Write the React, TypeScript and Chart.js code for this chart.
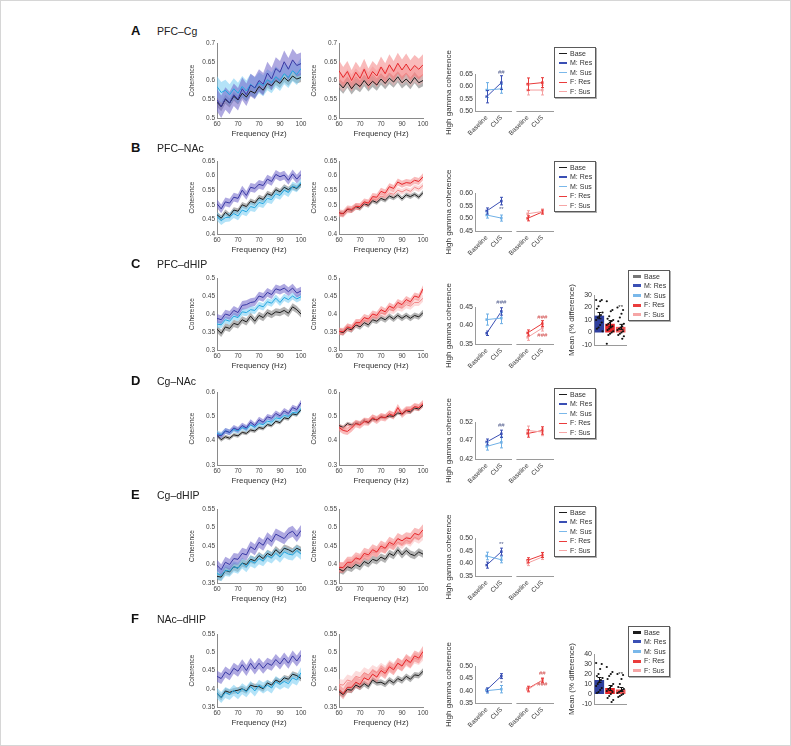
import React, { useEffect, useRef } from "react";
import { Chart, registerables } from "chart.js";
Chart.register(...registerables);

const FONT = "'Liberation Sans', Arial, Helvetica, sans-serif";
Chart.defaults.font.family = FONT;

// ---------- shared axis data ----------
const freqHz = [60, 62, 64, 66, 68, 70, 72, 74, 76, 78, 80, 82, 84, 86, 88, 90, 92, 94, 96, 98, 100];
const freqTickValues = [60, 70, 80, 90, 100];
const freqTickLabels = ["60", "70", "70", "90", "100"];

// ---------- coherence spectra (mean lines) ----------
// A: PFC–Cg
const aMBase = [0.542, 0.530, 0.550, 0.540, 0.558, 0.548, 0.566, 0.556, 0.572, 0.566, 0.584, 0.574, 0.592, 0.586, 0.600, 0.592, 0.608, 0.598, 0.612, 0.604, 0.608];
const aMRes = [0.548, 0.530, 0.552, 0.540, 0.562, 0.550, 0.578, 0.562, 0.588, 0.580, 0.600, 0.590, 0.620, 0.604, 0.632, 0.622, 0.650, 0.630, 0.655, 0.640, 0.645];
const aMSus = [0.584, 0.568, 0.574, 0.562, 0.578, 0.566, 0.584, 0.572, 0.590, 0.580, 0.594, 0.586, 0.602, 0.594, 0.610, 0.600, 0.618, 0.608, 0.626, 0.616, 0.632];
const aFBase = [0.592, 0.580, 0.596, 0.578, 0.592, 0.584, 0.600, 0.586, 0.598, 0.588, 0.604, 0.592, 0.606, 0.596, 0.610, 0.594, 0.604, 0.592, 0.608, 0.594, 0.600];
const aFRes = [0.626, 0.608, 0.624, 0.600, 0.622, 0.606, 0.630, 0.604, 0.624, 0.612, 0.636, 0.618, 0.642, 0.624, 0.646, 0.628, 0.644, 0.626, 0.640, 0.630, 0.642];
const aFSus = [0.604, 0.592, 0.608, 0.594, 0.610, 0.598, 0.614, 0.600, 0.616, 0.604, 0.618, 0.606, 0.620, 0.608, 0.622, 0.610, 0.620, 0.606, 0.618, 0.608, 0.616];
// B: PFC–NAc
const bMBase = [0.466, 0.454, 0.474, 0.462, 0.482, 0.478, 0.500, 0.494, 0.512, 0.506, 0.524, 0.518, 0.538, 0.532, 0.552, 0.544, 0.560, 0.552, 0.562, 0.556, 0.570];
const bMRes = [0.504, 0.486, 0.510, 0.506, 0.526, 0.522, 0.550, 0.532, 0.560, 0.556, 0.570, 0.566, 0.588, 0.580, 0.604, 0.596, 0.602, 0.584, 0.606, 0.588, 0.604];
const bMSus = [0.460, 0.446, 0.456, 0.458, 0.470, 0.462, 0.482, 0.476, 0.494, 0.490, 0.508, 0.504, 0.522, 0.518, 0.538, 0.532, 0.550, 0.542, 0.564, 0.558, 0.576];
const bFBase = [0.472, 0.468, 0.484, 0.480, 0.494, 0.488, 0.504, 0.498, 0.514, 0.508, 0.522, 0.516, 0.530, 0.524, 0.534, 0.520, 0.534, 0.528, 0.536, 0.526, 0.542];
const bFRes = [0.472, 0.470, 0.486, 0.484, 0.494, 0.494, 0.510, 0.506, 0.528, 0.526, 0.546, 0.540, 0.562, 0.556, 0.578, 0.570, 0.576, 0.574, 0.584, 0.580, 0.596];
const bFSus = [0.470, 0.466, 0.480, 0.482, 0.496, 0.492, 0.506, 0.504, 0.520, 0.516, 0.530, 0.526, 0.540, 0.536, 0.550, 0.544, 0.552, 0.546, 0.560, 0.554, 0.566];
// C: PFC–dHIP
const cMBase = [0.358, 0.346, 0.364, 0.360, 0.374, 0.370, 0.384, 0.378, 0.394, 0.380, 0.396, 0.390, 0.404, 0.398, 0.406, 0.404, 0.410, 0.402, 0.420, 0.412, 0.400];
const cMRes = [0.388, 0.384, 0.400, 0.396, 0.410, 0.404, 0.424, 0.426, 0.432, 0.434, 0.450, 0.446, 0.460, 0.454, 0.470, 0.466, 0.472, 0.462, 0.472, 0.458, 0.464];
const cMSus = [0.372, 0.370, 0.384, 0.380, 0.394, 0.390, 0.406, 0.404, 0.412, 0.410, 0.424, 0.420, 0.434, 0.430, 0.444, 0.432, 0.446, 0.440, 0.450, 0.442, 0.448];
const cFBase = [0.352, 0.348, 0.360, 0.356, 0.370, 0.364, 0.376, 0.370, 0.384, 0.380, 0.390, 0.384, 0.394, 0.386, 0.396, 0.388, 0.396, 0.388, 0.396, 0.392, 0.404];
const cFRes = [0.352, 0.350, 0.364, 0.360, 0.376, 0.376, 0.390, 0.386, 0.400, 0.396, 0.412, 0.406, 0.422, 0.416, 0.432, 0.426, 0.440, 0.434, 0.450, 0.446, 0.470];
const cFSus = [0.352, 0.352, 0.362, 0.360, 0.372, 0.372, 0.382, 0.380, 0.392, 0.390, 0.402, 0.400, 0.412, 0.410, 0.420, 0.416, 0.426, 0.422, 0.432, 0.432, 0.444];
// D: Cg–NAc
const dMBase = [0.422, 0.404, 0.416, 0.410, 0.424, 0.420, 0.434, 0.430, 0.444, 0.440, 0.454, 0.450, 0.466, 0.462, 0.480, 0.474, 0.494, 0.490, 0.510, 0.506, 0.528];
const dMRes = [0.424, 0.420, 0.440, 0.434, 0.452, 0.444, 0.462, 0.452, 0.476, 0.462, 0.486, 0.476, 0.498, 0.492, 0.512, 0.502, 0.522, 0.512, 0.536, 0.528, 0.556];
const dMSus = [0.430, 0.424, 0.440, 0.434, 0.446, 0.440, 0.454, 0.448, 0.464, 0.456, 0.470, 0.466, 0.480, 0.476, 0.494, 0.490, 0.504, 0.500, 0.516, 0.514, 0.532];
const dFBase = [0.462, 0.454, 0.470, 0.464, 0.472, 0.470, 0.484, 0.474, 0.490, 0.486, 0.498, 0.496, 0.502, 0.500, 0.514, 0.510, 0.524, 0.518, 0.534, 0.530, 0.546];
const dFRes = [0.454, 0.442, 0.438, 0.452, 0.470, 0.464, 0.478, 0.476, 0.494, 0.484, 0.498, 0.494, 0.510, 0.502, 0.536, 0.508, 0.524, 0.526, 0.540, 0.536, 0.552];
const dFSus = [0.454, 0.452, 0.464, 0.462, 0.474, 0.470, 0.484, 0.480, 0.494, 0.490, 0.502, 0.498, 0.510, 0.506, 0.520, 0.516, 0.530, 0.526, 0.540, 0.536, 0.550];
// E: Cg–dHIP
const eMBase = [0.368, 0.366, 0.384, 0.380, 0.394, 0.390, 0.404, 0.400, 0.414, 0.410, 0.424, 0.416, 0.430, 0.424, 0.440, 0.430, 0.444, 0.440, 0.434, 0.444, 0.438];
const eMRes = [0.398, 0.386, 0.406, 0.400, 0.416, 0.414, 0.430, 0.426, 0.448, 0.440, 0.460, 0.452, 0.472, 0.462, 0.482, 0.476, 0.470, 0.484, 0.490, 0.476, 0.492];
const eMSus = [0.376, 0.370, 0.384, 0.382, 0.394, 0.390, 0.404, 0.394, 0.410, 0.404, 0.416, 0.410, 0.424, 0.418, 0.430, 0.420, 0.434, 0.428, 0.426, 0.438, 0.428];
const eFBase = [0.388, 0.382, 0.394, 0.390, 0.400, 0.394, 0.408, 0.402, 0.414, 0.410, 0.420, 0.414, 0.430, 0.424, 0.440, 0.426, 0.438, 0.428, 0.424, 0.434, 0.428];
const eFRes = [0.392, 0.392, 0.406, 0.406, 0.418, 0.414, 0.430, 0.426, 0.440, 0.434, 0.450, 0.444, 0.460, 0.454, 0.470, 0.464, 0.472, 0.470, 0.484, 0.480, 0.494];
const eFSus = [0.392, 0.392, 0.404, 0.402, 0.414, 0.412, 0.424, 0.422, 0.434, 0.432, 0.444, 0.442, 0.454, 0.450, 0.460, 0.454, 0.466, 0.460, 0.474, 0.468, 0.478];
// F: NAc–dHIP
const fMBase = [0.388, 0.376, 0.394, 0.390, 0.394, 0.396, 0.400, 0.394, 0.410, 0.406, 0.406, 0.400, 0.416, 0.410, 0.424, 0.418, 0.430, 0.426, 0.440, 0.436, 0.428];
const fMRes = [0.434, 0.428, 0.446, 0.438, 0.456, 0.448, 0.466, 0.450, 0.470, 0.454, 0.470, 0.456, 0.470, 0.464, 0.480, 0.468, 0.484, 0.470, 0.490, 0.476, 0.492];
const fMSus = [0.388, 0.376, 0.390, 0.384, 0.396, 0.386, 0.400, 0.392, 0.406, 0.394, 0.410, 0.402, 0.410, 0.402, 0.420, 0.412, 0.420, 0.414, 0.430, 0.424, 0.444];
const fFBase = [0.392, 0.384, 0.398, 0.396, 0.410, 0.404, 0.414, 0.406, 0.424, 0.416, 0.418, 0.412, 0.424, 0.416, 0.428, 0.422, 0.434, 0.426, 0.438, 0.436, 0.448];
const fFRes = [0.398, 0.386, 0.404, 0.404, 0.418, 0.412, 0.430, 0.424, 0.440, 0.432, 0.450, 0.442, 0.460, 0.452, 0.470, 0.462, 0.480, 0.472, 0.490, 0.484, 0.502];
const fFSus = [0.412, 0.410, 0.424, 0.420, 0.434, 0.430, 0.444, 0.438, 0.450, 0.444, 0.456, 0.448, 0.464, 0.456, 0.470, 0.464, 0.476, 0.470, 0.484, 0.480, 0.492];

// SEM half-widths per plot, order: [Base, Sus, Res]
const aMSem = [0.012, 0.028, 0.03];
const aFSem = [0.015, 0.022, 0.028];
const bMSem = [0.01, 0.015, 0.015];
const bFSem = [0.008, 0.01, 0.012];
const cMSem = [0.01, 0.01, 0.012];
const cFSem = [0.008, 0.01, 0.01];
const dMSem = [0.008, 0.012, 0.012];
const dFSem = [0.008, 0.012, 0.015];
const eMSem = [0.01, 0.015, 0.015];
const eFSem = [0.01, 0.012, 0.015];
const fMSem = [0.008, 0.015, 0.015];
const fFSem = [0.008, 0.015, 0.015];

// coherence y ticks per row
const cohTicksA = [0.5, 0.55, 0.6, 0.65, 0.7];
const cohTicksB = [0.4, 0.45, 0.5, 0.55, 0.6, 0.65];
const cohTicksC = [0.3, 0.35, 0.4, 0.45, 0.5];
const cohTicksD = [0.3, 0.4, 0.5, 0.6];
const cohTicksE = [0.35, 0.4, 0.45, 0.5, 0.55];
const cohTicksF = [0.35, 0.4, 0.45, 0.5, 0.55];

// ---------- high gamma coherence (Baseline, CUS) per row A..F ----------
const hgXLabels = ["Baseline", "CUS", "Baseline", "CUS"];
const hgMRes = [[0.558, 0.615], [0.529, 0.568], [0.379, 0.438], [0.466, 0.488], [0.393, 0.446], [0.403, 0.459]];
const hgMResErr = [[0.025, 0.028], [0.012, 0.015], [0.006, 0.01], [0.008, 0.01], [0.012, 0.014], [0.008, 0.01]];
const hgMSus = [[0.585, 0.590], [0.513, 0.501], [0.416, 0.420], [0.454, 0.465], [0.429, 0.414], [0.400, 0.406]];
const hgMSusErr = [[0.03, 0.018], [0.012, 0.012], [0.015, 0.015], [0.01, 0.015], [0.015, 0.012], [0.01, 0.015]];
const hgFRes = [[0.609, 0.615], [0.500, 0.525], [0.380, 0.405], [0.489, 0.497], [0.412, 0.433], [0.408, 0.442]];
const hgFResErr = [[0.025, 0.02], [0.01, 0.008], [0.008, 0.008], [0.01, 0.01], [0.01, 0.01], [0.01, 0.008]];
const hgFSus = [[0.585, 0.585], [0.518, 0.527], [0.368, 0.393], [0.497, 0.493], [0.401, 0.425], [0.404, 0.442]];
const hgFSusErr = [[0.02, 0.02], [0.012, 0.01], [0.008, 0.008], [0.012, 0.01], [0.01, 0.01], [0.01, 0.01]];
const hgTicks = [
  [0.5, 0.55, 0.6, 0.65],
  [0.45, 0.5, 0.55, 0.6],
  [0.35, 0.4, 0.45],
  [0.42, 0.47, 0.52],
  [0.35, 0.4, 0.45, 0.5],
  [0.35, 0.4, 0.45, 0.5],
];
const hgSig = [
  [{ grp: "M", y: 0.658, text: "##" }],
  [{ grp: "M", y: 0.536, text: "**" }],
  [{ grp: "M", y: 0.463, text: "###" }, { grp: "F", y: 0.423, text: "###" }, { grp: "F", y: 0.374, text: "###" }],
  [{ grp: "M", y: 0.510, text: "##" }],
  [{ grp: "M", y: 0.474, text: "**" }],
  [{ grp: "M", y: 0.428, text: "*" }, { grp: "F", y: 0.472, text: "##" }, { grp: "F", y: 0.426, text: "###" }],
];

// ---------- mean % difference bars (rows C and F) ----------
const barCMeans = [13.5, 7, 4.5];
const barCErr = [2.5, 2.5, 2];
const barCPoints = [
  [26, 26, 25, 21, 19, 16, 14, 13, 12, 10, 8, 6, 4, 3, 1],
  [25, 18, 17, 13, 11, 10, 9, 8, 7, 6, 5, 4, 3, 2, 1, 0, -1, -2, -9],
  [20, 18, 15, 12, 9, 7, 5, 4, 3, 2, 1, 0, -1, -2, -3, -5],
];
const barCTicks = [-10, 0, 10, 20, 30];
const barCSig = [{ bar: 2, y: 20, text: "**" }];
const barFMeans = [14, 6, 4.5];
const barFErr = [2.5, 2.5, 2];
const barFPoints = [
  [31, 30, 25, 20, 18, 16, 14, 12, 10, 8, 6, 4, 2, 1],
  [27, 22, 20, 18, 15, 10, 8, 6, 5, 3, 2, 0, -2, -4, -6, -8],
  [20, 19, 15, 10, 7, 5, 4, 3, 2, 1, 0, -1, -2, -3],
];
const barFTicks = [-10, 0, 10, 20, 30, 40];
const barFSig = [{ bar: 2, y: 20, text: "**" }];

const legendLabels = ["Base", "M: Res", "M: Sus", "F: Res", "F: Sus"];

// ---------- styles ----------
const AXIS = "#8a8a8a";
const TICK = "#444";
const TXT = "#333";
const ST = {
  base: { line: "#1c1c1c", band: "rgba(105,105,105,0.5)" },
  mRes: { line: "#3838a4", band: "rgba(110,98,200,0.55)" },
  mSus: { line: "#22a6e0", band: "rgba(118,204,242,0.55)" },
  fRes: { line: "#e6262a", band: "rgba(242,105,105,0.45)" },
  fSus: { line: "#f28888", band: "rgba(249,178,178,0.45)" },
};
const DOT = { mRes: "#3a4fb4", mSus: "#6fb0e6", fRes: "#e83a3a", fSus: "#f4a0a0" };
const LEGEND_COLORS = ["#1c1c1c", "#3a4fb4", "#7ab8ea", "#ea3c3c", "#f6a6a6"];
const BAR_COLORS = ["#2f3f9f", "#e8262a", "#ee5757"];

type Area = { l: number; t: number; w: number; h: number };
type Margin = { l: number; t: number; r: number; b: number };

const cohMargin: Margin = { l: 35, t: 8, r: 8, b: 21 };
const hgMargin: Margin = { l: 34, t: 30, r: 2, b: 34 };
const barMargin: Margin = { l: 30, t: 16, r: 2, b: 16 };

// layout positions in data units of the dot plot x scale
const HG_X = [0, 1, 2.8, 3.8];
const HG_XMIN = -0.8;
const HG_XMAX = 4.6;
const HG_SEG = [[-0.8, 1.73], [2.03, 4.6]];

const ROWS = [
  { letter: "A", title: "PFC–Cg", capTop: 26, cohT: 43, cohB: 118, dotT: 74, dotB: 111, legT: 47, legL: 554 },
  { letter: "B", title: "PFC–NAc", capTop: 143, cohT: 161, cohB: 234, dotT: 193, dotB: 231, legT: 161, legL: 554 },
  { letter: "C", title: "PFC–dHIP", capTop: 259, cohT: 278, cohB: 350, dotT: 307, dotB: 344, legT: 270, legL: 628, barT: 295, barB: 345 },
  { letter: "D", title: "Cg–NAc", capTop: 376, cohT: 392, cohB: 465, dotT: 422, dotB: 459, legT: 388, legL: 554 },
  { letter: "E", title: "Cg–dHIP", capTop: 490, cohT: 509, cohB: 583, dotT: 538, dotB: 576, legT: 506, legL: 554 },
  { letter: "F", title: "NAc–dHIP", capTop: 614, cohT: 634, cohB: 707, dotT: 666, dotB: 703, legT: 626, legL: 628, barT: 654, barB: 704 },
];

const PANELS = [
  { m: [aMBase, aMSus, aMRes], mSem: aMSem, f: [aFBase, aFSus, aFRes], fSem: aFSem, ticks: cohTicksA },
  { m: [bMBase, bMSus, bMRes], mSem: bMSem, f: [bFBase, bFSus, bFRes], fSem: bFSem, ticks: cohTicksB },
  { m: [cMBase, cMSus, cMRes], mSem: cMSem, f: [cFBase, cFSus, cFRes], fSem: cFSem, ticks: cohTicksC },
  { m: [dMBase, dMSus, dMRes], mSem: dMSem, f: [dFBase, dFSus, dFRes], fSem: dFSem, ticks: cohTicksD },
  { m: [eMBase, eMSus, eMRes], mSem: eMSem, f: [eFBase, eFSus, eFRes], fSem: eFSem, ticks: cohTicksE },
  { m: [fMBase, fMSus, fMRes], mSem: fMSem, f: [fFBase, fFSus, fFRes], fSem: fFSem, ticks: cohTicksF },
];

// ---------- helpers ----------
const setTicks = (vals: number[]) => (s: any) => {
  s.ticks = vals.map((v) => ({ value: v }));
};
const fitH = (h: number) => (s: any) => {
  s.height = h;
};
const fitW = (w: number) => (s: any) => {
  s.width = w;
};
const fmtShort = (v: number) => String(Number(v.toFixed(3)));
const fmt2 = (v: number) => v.toFixed(2);

function common(m: Margin) {
  return {
    responsive: false,
    maintainAspectRatio: false,
    animation: false,
    devicePixelRatio: 1,
    events: [],
    layout: { padding: { top: m.t, right: m.r, left: 0, bottom: 0 } },
    plugins: { legend: { display: false }, tooltip: { enabled: false }, title: { display: false } },
  };
}

const errorBarPlugin = {
  id: "errBars",
  afterDatasetsDraw(chart: any) {
    const ctx = chart.ctx;
    const ys = chart.scales.y;
    chart.data.datasets.forEach((ds: any, di: number) => {
      if (!ds.errors) return;
      const meta = chart.getDatasetMeta(di);
      ctx.save();
      ctx.strokeStyle = ds.errColor || ds.borderColor;
      ctx.lineWidth = 1;
      const cap = ds.errCap ?? 1.5;
      meta.data.forEach((el: any, i: number) => {
        const raw = ds.data[i];
        const yv = typeof raw === "number" ? raw : raw.y;
        const e = ds.errors[i];
        const x = Math.round(el.x) + 0.5;
        const y1 = ys.getPixelForValue(yv + e);
        const y2 = ys.getPixelForValue(yv - e);
        ctx.beginPath();
        ctx.moveTo(x, y1);
        ctx.lineTo(x, y2);
        ctx.moveTo(x - cap, y1);
        ctx.lineTo(x + cap, y1);
        ctx.moveTo(x - cap, y2);
        ctx.lineTo(x + cap, y2);
        ctx.stroke();
      });
      ctx.restore();
    });
  },
};

function textPlugin(items: { x: number; y: number; text: string; color: string }[]) {
  return {
    id: "sigText",
    afterDatasetsDraw(chart: any) {
      const ctx = chart.ctx;
      ctx.save();
      ctx.font = `6px ${FONT}`;
      ctx.textAlign = "center";
      ctx.textBaseline = "middle";
      items.forEach((it) => {
        ctx.fillStyle = it.color;
        ctx.fillText(it.text, chart.scales.x.getPixelForValue(it.x), chart.scales.y.getPixelForValue(it.y));
      });
      ctx.restore();
    },
  };
}

const brokenAxisPlugin = {
  id: "brokenAxis",
  afterDraw(chart: any) {
    const ctx = chart.ctx;
    const xs = chart.scales.x;
    const y = Math.round(chart.chartArea.bottom) + 0.5;
    ctx.save();
    ctx.strokeStyle = "#9a9a9a";
    ctx.lineWidth = 1;
    HG_SEG.forEach(([a, b]) => {
      ctx.beginPath();
      ctx.moveTo(xs.getPixelForValue(a), y);
      ctx.lineTo(xs.getPixelForValue(b), y);
      ctx.stroke();
    });
    ctx.restore();
  },
};

// ---------- chart configs ----------
function cohConfig(means: number[][], sems: number[], styles: { line: string; band: string }[], yTicks: number[]) {
  const datasets: any[] = [];
  const n = means.length;
  means.forEach((mean, k) => {
    const order = 2 * n - k;
    datasets.push({
      data: mean.map((v, i) => ({ x: freqHz[i], y: v + sems[k] })),
      borderWidth: 0,
      pointRadius: 0,
      fill: false,
      order,
    });
    datasets.push({
      data: mean.map((v, i) => ({ x: freqHz[i], y: v - sems[k] })),
      borderWidth: 0,
      pointRadius: 0,
      fill: "-1",
      backgroundColor: styles[k].band,
      order,
    });
  });
  means.forEach((mean, k) => {
    datasets.push({
      data: mean.map((v, i) => ({ x: freqHz[i], y: v })),
      borderColor: styles[k].line,
      borderWidth: 1,
      pointRadius: 0,
      fill: false,
      order: n - k,
    });
  });
  return {
    type: "line",
    data: { datasets },
    options: {
      ...common(cohMargin),
      scales: {
        x: {
          type: "linear",
          min: 60,
          max: 100,
          afterBuildTicks: setTicks(freqTickValues),
          afterFit: fitH(cohMargin.b),
          grid: { display: false, drawTicks: false },
          border: { display: true, color: AXIS, width: 1 },
          ticks: {
            autoSkip: false,
            maxRotation: 0,
            minRotation: 0,
            padding: 2,
            color: TICK,
            font: { size: 6.5 },
            callback: (_v: any, i: number) => freqTickLabels[i],
          },
          title: { display: true, text: "Frequency (Hz)", color: TXT, font: { size: 8 }, padding: { top: 0, bottom: 0 } },
        },
        y: {
          type: "linear",
          min: yTicks[0],
          max: yTicks[yTicks.length - 1],
          afterBuildTicks: setTicks(yTicks),
          afterFit: fitW(cohMargin.l),
          grid: { display: false, drawTicks: false },
          border: { display: true, color: AXIS, width: 1 },
          ticks: { autoSkip: false, padding: 2, color: TICK, font: { size: 6.5 }, callback: (v: any) => fmtShort(v) },
          title: { display: true, text: "Coherence", color: TXT, font: { size: 6.5 }, padding: { top: 6, bottom: 0 } },
        },
      },
    },
  };
}

function hgConfig(row: number) {
  const mk = (vals: number[], errs: number[], xs: number[], color: string) => ({
    data: vals.map((v, i) => ({ x: xs[i], y: v })),
    borderColor: color,
    backgroundColor: color,
    borderWidth: 1,
    pointStyle: "rect",
    pointRadius: 1.8,
    pointBorderWidth: 0,
    fill: false,
    errors: errs,
  });
  const mx = [HG_X[0], HG_X[1]];
  const fx = [HG_X[2], HG_X[3]];
  const datasets = [
    mk(hgMSus[row], hgMSusErr[row], mx, DOT.mSus),
    mk(hgMRes[row], hgMResErr[row], mx, DOT.mRes),
    mk(hgFSus[row], hgFSusErr[row], fx, DOT.fSus),
    mk(hgFRes[row], hgFResErr[row], fx, DOT.fRes),
  ];
  const ticks = hgTicks[row];
  const sig = hgSig[row].map((s) => ({
    x: s.grp === "M" ? HG_X[1] : HG_X[3],
    y: s.y,
    text: s.text,
    color: s.grp === "M" ? "#55608f" : "#d24a4a",
  }));
  return {
    type: "line",
    data: { datasets },
    plugins: [errorBarPlugin, textPlugin(sig), brokenAxisPlugin],
    options: {
      ...common(hgMargin),
      scales: {
        x: {
          type: "linear",
          min: HG_XMIN,
          max: HG_XMAX,
          afterBuildTicks: setTicks(HG_X),
          afterFit: fitH(hgMargin.b),
          grid: { display: false, drawTicks: false },
          border: { display: false },
          ticks: {
            autoSkip: false,
            minRotation: 45,
            maxRotation: 45,
            padding: 3,
            color: TXT,
            font: { size: 6.5 },
            callback: (_v: any, i: number) => hgXLabels[i],
          },
        },
        y: {
          type: "linear",
          min: ticks[0],
          max: ticks[ticks.length - 1],
          afterBuildTicks: setTicks(ticks),
          afterFit: fitW(hgMargin.l),
          grid: { display: false, drawTicks: false },
          border: { display: true, color: "#9a9a9a", width: 1 },
          ticks: { autoSkip: false, padding: 2, color: TXT, font: { size: 7 }, callback: (v: any) => fmt2(v) },
          title: { display: true, text: "High gamma coherence", color: TXT, font: { size: 8 }, padding: { top: 3, bottom: 0 } },
        },
      },
    },
  };
}

function barConfig(means: number[], errs: number[], points: number[][], ticks: number[], sigs: { bar: number; y: number; text: string }[]) {
  const scatter: { x: number; y: number }[] = [];
  points.forEach((arr, b) => {
    arr.forEach((v, i) => {
      scatter.push({ x: b + (((i * 7) % 9) - 4) * 0.075, y: v });
    });
  });
  return {
    type: "bar",
    data: {
      datasets: [
        {
          type: "bar",
          data: means.map((m, i) => ({ x: i, y: m })),
          backgroundColor: BAR_COLORS,
          borderWidth: 0,
          barPercentage: 0.9,
          categoryPercentage: 1,
          errors: errs,
          errColor: "#111",
          errCap: 2,
          order: 2,
        },
        {
          type: "scatter",
          data: scatter,
          backgroundColor: "#111",
          borderWidth: 0,
          pointRadius: 1.1,
          order: 1,
        },
      ],
    },
    plugins: [errorBarPlugin, textPlugin(sigs.map((s) => ({ x: s.bar, y: s.y, text: s.text, color: "#222" })))],
    options: {
      ...common(barMargin),
      scales: {
        x: {
          type: "linear",
          min: -0.5,
          max: 2.5,
          offset: false,
          afterFit: fitH(barMargin.b),
          grid: { display: false, drawTicks: false },
          border: { display: true, color: "#9a9a9a", width: 1 },
          ticks: { display: false },
        },
        y: {
          type: "linear",
          min: ticks[0],
          max: ticks[ticks.length - 1],
          afterBuildTicks: setTicks(ticks),
          afterFit: fitW(barMargin.l),
          grid: { display: false, drawTicks: false },
          border: { display: true, color: "#9a9a9a", width: 1 },
          ticks: { autoSkip: false, padding: 2, color: TXT, font: { size: 7 }, callback: (v: any) => String(v) },
          title: { display: true, text: "Mean (% difference)", color: TXT, font: { size: 8 }, padding: { top: 3, bottom: 0 } },
        },
      },
    },
  };
}

// ---------- components ----------
function ChartCanvas({ area, margin, config }: { area: Area; margin: Margin; config: any }) {
  const ref = useRef<HTMLCanvasElement>(null);
  const width = Math.round(margin.l + area.w + margin.r);
  const height = Math.round(margin.t + area.h + margin.b);
  useEffect(() => {
    const chart = new Chart(ref.current as HTMLCanvasElement, config);
    return () => chart.destroy();
  }, []);
  return (
    <canvas
      ref={ref}
      width={width}
      height={height}
      style={{ position: "absolute", left: area.l - margin.l, top: area.t - margin.t, width, height }}
    />
  );
}

function Legend({ left, top, thick }: { left: number; top: number; thick: boolean }) {
  return (
    <div
      style={{
        position: "absolute",
        left,
        top,
        width: 42,
        height: 51,
        boxSizing: "border-box",
        border: "1px solid #5a5a5a",
        boxShadow: "1px 1px 0 #b0b0b0",
        background: "#fff",
      }}
    >
      {legendLabels.map((lab, i) => (
        <div key={lab} style={{ position: "absolute", left: 0, top: 0.5 + i * 9.6, height: 9.6, width: 40 }}>
          <div
            style={{
              position: "absolute",
              left: 3.5,
              top: thick ? 3.3 : 4.3,
              width: 8,
              height: thick ? 3 : 1.2,
              background: thick && i === 0 && top < 400 ? "#777" : LEGEND_COLORS[i],
            }}
          />
          <div
            style={{
              position: "absolute",
              left: 15,
              top: 0,
              fontSize: 7,
              lineHeight: "9.6px",
              color: TXT,
              whiteSpace: "nowrap",
            }}
          >
            {lab}
          </div>
        </div>
      ))}
    </div>
  );
}

const MALE_L = 217;
const FEMALE_L = 339;
const COH_W = 84;
const HG_L = 475;
const HG_W = 81;
const BAR_L = 594;
const BAR_W = 34;

export default function App() {
  return (
    <div
      style={{
        position: "absolute",
        left: 0,
        top: 0,
        width: 791,
        height: 746,
        background: "#fff",
        fontFamily: FONT,
        overflow: "hidden",
      }}
    >
      <div
        style={{
          position: "absolute",
          left: 0,
          top: 0,
          width: 791,
          height: 746,
          boxSizing: "border-box",
          border: "1px solid #d6d6d6",
        }}
      />
      {ROWS.map((r, ri) => {
        const p = PANELS[ri];
        const cohArea = (l: number): Area => ({ l, t: r.cohT, w: COH_W, h: r.cohB - r.cohT });
        return (
          <React.Fragment key={r.letter}>
            <div
              style={{
                position: "absolute",
                left: 131,
                top: r.capTop - 1.7,
                fontSize: 13,
                lineHeight: "13px",
                fontWeight: 700,
                color: "#111",
              }}
            >
              {r.letter}
            </div>
            <div
              style={{
                position: "absolute",
                left: 157,
                top: r.capTop + 0.4,
                fontSize: 10.5,
                lineHeight: "10.5px",
                color: "#222",
                whiteSpace: "nowrap",
              }}
            >
              {r.title}
            </div>
            <ChartCanvas
              area={cohArea(MALE_L)}
              margin={cohMargin}
              config={cohConfig(p.m, p.mSem, [ST.base, ST.mSus, ST.mRes], p.ticks)}
            />
            <ChartCanvas
              area={cohArea(FEMALE_L)}
              margin={cohMargin}
              config={cohConfig(p.f, p.fSem, [ST.base, ST.fSus, ST.fRes], p.ticks)}
            />
            <ChartCanvas
              area={{ l: HG_L, t: r.dotT, w: HG_W, h: r.dotB - r.dotT }}
              margin={hgMargin}
              config={hgConfig(ri)}
            />
            {r.letter === "C" && (
              <ChartCanvas
                area={{ l: BAR_L, t: r.barT as number, w: BAR_W, h: (r.barB as number) - (r.barT as number) }}
                margin={barMargin}
                config={barConfig(barCMeans, barCErr, barCPoints, barCTicks, barCSig)}
              />
            )}
            {r.letter === "F" && (
              <ChartCanvas
                area={{ l: BAR_L, t: r.barT as number, w: BAR_W, h: (r.barB as number) - (r.barT as number) }}
                margin={barMargin}
                config={barConfig(barFMeans, barFErr, barFPoints, barFTicks, barFSig)}
              />
            )}
            <Legend left={r.legL} top={r.legT} thick={r.legL > 600} />
          </React.Fragment>
        );
      })}
    </div>
  );
}
